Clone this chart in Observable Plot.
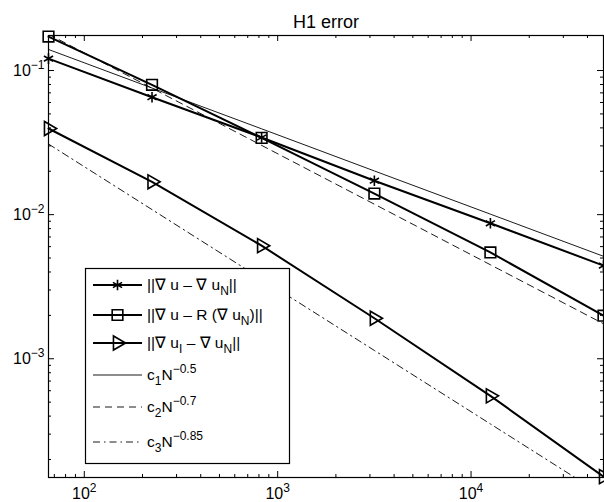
<!DOCTYPE html>
<html>
<head>
<meta charset="utf-8">
<script src="https://cdn.jsdelivr.net/npm/d3@7"></script>
<script src="https://cdn.jsdelivr.net/npm/@observablehq/plot@0.6"></script>
<style>
  html, body { margin: 0; padding: 0; background: #fff; }
  svg text { font-family: "Liberation Sans", Arial, Helvetica, sans-serif; }
</style>
</head>
<body>
<div id="chart"></div>
<script>
// ---- data ----
const N = [65.3, 224, 826, 3162, 12590, 48400];
const errGrad   = [0.121, 0.0653, 0.0343, 0.0172, 0.00871, 0.00443];   // ||∇u − ∇u_N||
const errRecov  = [0.172, 0.0796, 0.0341, 0.0140, 0.00547, 0.00199];   // ||∇u − R(∇u_N)||
const errInterp = [0.0396, 0.0169, 0.00609, 0.00191, 0.000553, 0.000152]; // ||∇u_I − ∇u_N||
const ref05  = [0.140, 0.0756, 0.0394, 0.0201, 0.01008, 0.00514];       // c1 N^-0.5
const ref07  = [0.1786, 0.0754, 0.03024, 0.01182, 0.00449, 0.00175];    // c2 N^-0.7
const ref085 = [0.0309, 0.01084, 0.003574, 0.001142, 0.000353, 0.0001123]; // c3 N^-0.85

const title = "H1 error";
const xDomain = [65.3, 48400];
const yDomain = [0.00015, 0.175];
const majorX = [100, 1000, 10000];
const majorY = [0.001, 0.01, 0.1];
const xLabels = ["10^2", "10^3", "10^4"];
const yLabels = ["10^−3", "10^−2", "10^−1"];

const minorOf = (dom) => {
  const out = [];
  for (let e = Math.floor(Math.log10(dom[0])); e <= Math.ceil(Math.log10(dom[1])); e++) {
    for (let m = 2; m <= 9; m++) {
      const v = m * Math.pow(10, e);
      if (v > dom[0] && v < dom[1]) out.push(v);
    }
  }
  return out;
};
const minorX = minorOf(xDomain);
const minorY = minorOf(yDomain);

const table = N.map((n, i) => ({
  N: n, grad: errGrad[i], recov: errRecov[i], interp: errInterp[i],
  r05: ref05[i], r07: ref07[i], r085: ref085[i]
}));

const MAJ = 6, MIN = 3;
const xfmt = d => xLabels[majorX.indexOf(d)];
const yfmt = d => yLabels[majorY.indexOf(d)];

const plot = Plot.plot({
  width: 604,
  height: 502,
  marginLeft: 48,
  marginRight: 1,
  marginTop: 35,
  marginBottom: 25,
  style: { background: "white", color: "black", fontFamily: "Liberation Sans, Arial, sans-serif" },
  x: { type: "log", domain: xDomain, label: null },
  y: { type: "log", domain: yDomain, label: null },
  marks: [
    // reference slopes
    Plot.line(table, { x: "N", y: "r05", stroke: "black", strokeWidth: 0.9, clip: true }),
    Plot.line(table, { x: "N", y: "r07", stroke: "black", strokeWidth: 0.9, strokeDasharray: "7,5", clip: true }),
    Plot.line(table, { x: "N", y: "r085", stroke: "black", strokeWidth: 0.9, strokeDasharray: "7,4,1.5,4", clip: true }),
    // error series
    Plot.line(table, { x: "N", y: "grad", stroke: "black", strokeWidth: 2 }),
    Plot.line(table, { x: "N", y: "recov", stroke: "black", strokeWidth: 2 }),
    Plot.line(table, { x: "N", y: "interp", stroke: "black", strokeWidth: 2 }),
    Plot.dot(table, { x: "N", y: "grad", symbol: "asterisk", r: 5, stroke: "black", strokeWidth: 1.6 }),
    Plot.dot(table, { x: "N", y: "recov", symbol: "square", r: 6, fill: "none", stroke: "black", strokeWidth: 1.6 }),
    Plot.dot(table, { x: "N", y: "interp", symbol: "triangle", rotate: 90, r: 5.2, fill: "none", stroke: "black", strokeWidth: 1.6 }),
    // frame
    Plot.frame({ stroke: "black", strokeWidth: 1.2 }),
    // inward ticks: bottom / top
    Plot.ruleX(majorX, { x: d => d, y1: () => yDomain[0], y2: () => yDomain[0], insetTop: -MAJ, stroke: "black" }),
    Plot.ruleX(minorX, { x: d => d, y1: () => yDomain[0], y2: () => yDomain[0], insetTop: -MIN, stroke: "black" }),
    Plot.ruleX(majorX, { x: d => d, y1: () => yDomain[1], y2: () => yDomain[1], insetBottom: -MAJ, stroke: "black" }),
    Plot.ruleX(minorX, { x: d => d, y1: () => yDomain[1], y2: () => yDomain[1], insetBottom: -MIN, stroke: "black" }),
    // inward ticks: left / right
    Plot.ruleY(majorY, { y: d => d, x1: () => xDomain[0], x2: () => xDomain[0], insetRight: -MAJ, stroke: "black" }),
    Plot.ruleY(minorY, { y: d => d, x1: () => xDomain[0], x2: () => xDomain[0], insetRight: -MIN, stroke: "black" }),
    Plot.ruleY(majorY, { y: d => d, x1: () => xDomain[1], x2: () => xDomain[1], insetLeft: -MAJ, stroke: "black" }),
    Plot.ruleY(minorY, { y: d => d, x1: () => xDomain[1], x2: () => xDomain[1], insetLeft: -MIN, stroke: "black" }),
    // tick labels
    Plot.axisX(majorX, { anchor: "bottom", tickSize: 0, tickPadding: 10, tickFormat: xfmt, fontSize: 16, fill: "black", label: null }),
    Plot.axisY(majorY, { anchor: "left", tickSize: 0, tickPadding: 4, tickFormat: yfmt, fontSize: 16, fill: "black", label: null }),
    // title
    Plot.text([title], { text: d => d, frameAnchor: "top", lineAnchor: "bottom", dy: -8, fontSize: 18, fill: "black" })
  ]
});

document.getElementById("chart").appendChild(plot);

const svg = d3.select(plot);

// exponent formatting for tick labels (10^k)
svg.selectAll("text").each(function () {
  const t = d3.select(this);
  const s = this.textContent;
  if (s && s.includes("^") && this.children.length === 0) {
    const [base, exp] = s.split("^");
    t.text(null);
    t.append("tspan").text(base);
    t.append("tspan").attr("dy", "-0.55em").attr("font-size", "0.75em").text(exp);
  }
});

// ---- legend (inside the axes, lower left) ----
const legendItems = [
  { parts: [["||∇ u – ∇ u", 0], ["N", 1], ["||", 0]], marker: "asterisk", dash: null, width: 2 },
  { parts: [["||∇ u – R (∇ u", 0], ["N", 1], [")||", 0]], marker: "square", dash: null, width: 2 },
  { parts: [["||∇ u", 0], ["I", 1], [" – ∇ u", 0], ["N", 1], ["||", 0]], marker: "triangle", dash: null, width: 2 },
  { parts: [["c", 0], ["1", 1], ["N", 0], ["−0.5", 2]], marker: null, dash: null, width: 0.9 },
  { parts: [["c", 0], ["2", 1], ["N", 0], ["−0.7", 2]], marker: null, dash: "7,5", width: 0.9 },
  { parts: [["c", 0], ["3", 1], ["N", 0], ["−0.85", 2]], marker: null, dash: "7,4,1.5,4", width: 0.9 }
];
const rowY = [285, 315, 343, 375, 407, 442];
const box = { x: 85, y: 268, w: 204, h: 195 };

const lg = svg.append("g").attr("class", "legend");
lg.append("rect").attr("x", box.x + 0.5).attr("y", box.y + 0.5).attr("width", box.w).attr("height", box.h)
  .attr("fill", "white").attr("stroke", "black").attr("stroke-width", 1.2);

legendItems.forEach((it, i) => {
  const y = rowY[i];
  lg.append("line").attr("x1", 93).attr("x2", 142).attr("y1", y).attr("y2", y)
    .attr("stroke", "black").attr("stroke-width", it.width)
    .attr("stroke-dasharray", it.dash);
  if (it.marker) {
    const sym = { asterisk: d3.symbolAsterisk, square: d3.symbolSquare, triangle: d3.symbolTriangle }[it.marker];
    const size = { asterisk: 5 * 5 * Math.PI, square: 6 * 6 * Math.PI, triangle: 5.2 * 5.2 * Math.PI }[it.marker];
    lg.append("path").attr("d", d3.symbol(sym, size)())
      .attr("transform", `translate(117.5,${y})` + (it.marker === "triangle" ? " rotate(90)" : ""))
      .attr("fill", "none").attr("stroke", "black").attr("stroke-width", 1.6);
  }
  const t = lg.append("text").attr("x", 147).attr("y", y + 5).attr("font-size", 15.5)
    .attr("text-anchor", "start").attr("fill", "black");
  let cur = 0;
  it.parts.forEach(([s, kind]) => {
    const target = kind === 1 ? 5 : kind === 2 ? -7 : 0;
    const ts = t.append("tspan").attr("dy", target - cur).text(s);
    if (kind) ts.attr("font-size", 12);
    cur = target;
  });
});
</script>
</body>
</html>
